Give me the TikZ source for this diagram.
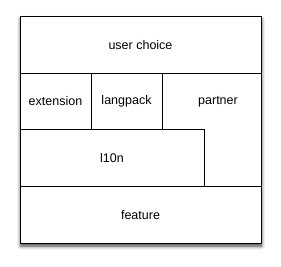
\documentclass[tikz,border=0pt]{standalone}
\usepackage{fontspec}
\setmainfont{Liberation Sans}
\usetikzlibrary{shadows.blur}
\begin{document}
\begin{tikzpicture}[x=1pt,y=-1pt,
  lbl/.style={font=\fontsize{12.5}{15}\selectfont, inner sep=0pt},
  cell/.style={draw=black, line width=0.9pt}]
\useasboundingbox (0,0) rectangle (281,267);
% outer box with shadow
\fill[white, blur shadow={shadow xshift=0.5pt, shadow yshift=-3pt, shadow blur radius=3.5pt, shadow opacity=75}] (20,16) rectangle (261,243);
% cells
\draw[cell] (20,16) rectangle (261,73);
\draw[cell] (20,73) rectangle (91,129);
\draw[cell] (91,73) rectangle (162,129);
\draw[cell] (162,73) -- (261,73) -- (261,186) -- (204,186) -- (204,129) -- (162,129) -- cycle;
\draw[cell] (20,129) rectangle (204,186);
\draw[cell] (20,186) rectangle (261,243);
\draw[cell] (20,16) rectangle (261,243);
% labels
\node[lbl] (uc) at (140.5,45) {user choice};
\node[lbl] (ext) at (55.5,101) {extension};
\node[lbl] (lp) at (126.5,101) {langpack};
\node[lbl] (pt) at (218,102) {partner};
\node[lbl] (l10n) at (112,158) {l10n};
\node[lbl] (ft) at (140.5,215) {feature};
\end{tikzpicture}
\end{document}
